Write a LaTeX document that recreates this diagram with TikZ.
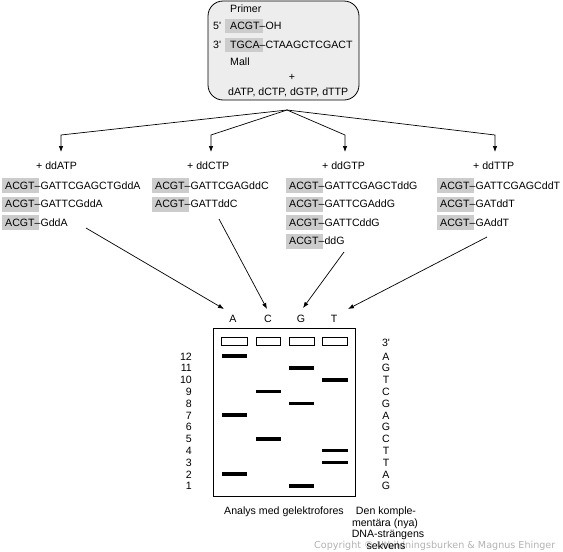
\documentclass[tikz,border=0pt]{standalone}
\usepackage{fontspec}
\setmainfont{Liberation Sans}[Ligatures=TeXOff]
\newfontfamily\wmfont{DejaVu Sans}
\usetikzlibrary{arrows.meta}
\newcommand\seqrow[4]{%
  \fill[hl] ({#2-3},{#3-7.5}) rectangle ({#2+34},{#3+7.5});
  \node[txt] (#1) at (#2,#3) {#4};}
\newcommand\gelband[3]{%
  \draw[band] (#1,{486-(#3-1)*11.8}) -- (#2,{486-(#3-1)*11.8});}
\begin{document}
\begin{tikzpicture}[x=1pt,y=-1pt,
  txt/.style={inner sep=0pt, anchor=west, font=\fontsize{10.6}{12}\selectfont, text height=7.6pt, text depth=0pt},
  ctxt/.style={txt, anchor=center},
  hl/.style={fill=black!20},
  arr/.style={-{Latex[length=6pt,width=4.5pt]}, line width=0.7pt},
  band/.style={line width=3.6pt},
  well/.style={draw, line width=0.7pt},
  wm/.style={inner sep=0pt, anchor=west, font=\wmfont\fontsize{9.6}{12}\selectfont, text=black!30}]
\useasboundingbox (0,0) rectangle (563,552);

% watermark
\node[wm] (wm) at (314,546) {Copyright © Utbildningsburken \& Magnus Ehinger};

% top box
\node[draw, fill=black!7, rounded corners=15pt, line width=0.8pt, minimum width=151pt, minimum height=99pt, inner sep=0pt] (mix) at (283.5,50.5) {};
\fill[hl] (225,19) rectangle (263,33);
\fill[hl] (225,38) rectangle (263,52);
\node[txt] (primer) at (230,9) {Primer};
\node[txt] (f5) at (213,26) {5'};
\node[txt] (pr) at (230,26) {ACGT–OH};
\node[txt] (f3) at (213,45) {3'};
\node[txt] (tm) at (230,45) {TGCA–CTAAGCTCGACT};
\node[txt] (mall) at (230,62) {Mall};
\node[ctxt] (plus) at (292,77) {+};
\node[txt] (dntp) at (228,92) {dATP, dCTP, dGTP, dTTP};

% fan arrows
\coordinate (fan) at (287,110);
\coordinate (k1) at (61,135);  \coordinate (t1) at (61,152);
\coordinate (k2) at (211,135); \coordinate (t2) at (211,152);
\coordinate (k3) at (345,135); \coordinate (t3) at (345,152);
\coordinate (k4) at (495,135); \coordinate (t4) at (495,152);
\draw[arr] (fan) -- (k1) -- (t1);
\draw[arr] (fan) -- (k2) -- (t2);
\draw[arr] (fan) -- (k3) -- (t3);
\draw[arr] (fan) -- (k4) -- (t4);

% headers
\node[txt] (hA) at (36,166) {+ ddATP};
\node[txt] (hC) at (187,166) {+ ddCTP};
\node[txt] (hG) at (322,166) {+ ddGTP};
\node[txt] (hT) at (473,166) {+ ddTTP};

% fragments
\seqrow{a1}{5}{185.5}{ACGT–GATTCGAGCTGddA}
\seqrow{a2}{5}{204}{ACGT–GATTCGddA}
\seqrow{a3}{5}{222.5}{ACGT–GddA}
\seqrow{c1}{155}{185.5}{ACGT–GATTCGAGddC}
\seqrow{c2}{155}{204}{ACGT–GATTddC}
\seqrow{g1}{289}{185.5}{ACGT–GATTCGAGCTddG}
\seqrow{g2}{289}{204}{ACGT–GATTCGAddG}
\seqrow{g3}{289}{222.5}{ACGT–GATTCddG}
\seqrow{g4}{289}{241}{ACGT–ddG}
\seqrow{t1n}{440}{185.5}{ACGT–GATTCGAGCddT}
\seqrow{t2n}{440}{204}{ACGT–GATddT}
\seqrow{t3n}{440}{222.5}{ACGT–GAddT}

% lane letters
\node[ctxt] (lA) at (233,319) {A};
\node[ctxt] (lC) at (268,319) {C};
\node[ctxt] (lG) at (301,319) {G};
\node[ctxt] (lT) at (334,319) {T};

% arrows to gel
\coordinate (sA) at (86,228);  \coordinate (eA) at (224,309);
\coordinate (sC) at (219,219); \coordinate (eC) at (267,309);
\coordinate (sG) at (344,252); \coordinate (eG) at (303,308);
\coordinate (sT) at (487,237); \coordinate (eT) at (348,309);
\draw[arr] (sA) -- (eA);
\draw[arr] (sC) -- (eC);
\draw[arr] (sG) -- (eG);
\draw[arr] (sT) -- (eT);

% gel
\node[draw, line width=0.8pt, minimum width=142pt, minimum height=168pt, inner sep=0pt] (gel) at (284,412) {};
\draw[well] (221,337) rectangle (247,345);
\draw[well] (256,337) rectangle (280,345);
\draw[well] (289,337) rectangle (314,345);
\draw[well] (322,337) rectangle (347,345);

% bands
\gelband{222}{247}{12}
\gelband{222}{247}{7}
\gelband{222}{247}{2}
\gelband{256}{281}{9}
\gelband{256}{281}{5}
\gelband{289}{314}{11}
\gelband{289}{314}{8}
\gelband{289}{314}{1}
\gelband{322}{348}{10}
\gelband{322}{348}{4}
\gelband{322}{348}{3}

% numbers and sequence
\foreach \n/\b in {1/G,2/A,3/T,4/T,5/C,6/G,7/A,8/G,9/C,10/T,11/G,12/A}{
  \node[txt, anchor=east] (num\n) at (192,{486-(\n-1)*11.8}) {\n};
  \node[ctxt] (seq\n) at (386,{486-(\n-1)*11.8}) {\b};
}
\node[ctxt] (p3) at (386,343) {3'};

% captions
\node[ctxt] (cap1) at (284,511) {Analys med gelektrofores};
\node[ctxt] (cap2a) at (386,511) {Den komple-};
\node[ctxt] (cap2b) at (385,522.5) {mentära (nya)};
\node[ctxt] (cap2c) at (388,534) {DNA-strängens};
\node[ctxt] (cap2d) at (386,545.5) {sekvens};
\end{tikzpicture}
\end{document}
